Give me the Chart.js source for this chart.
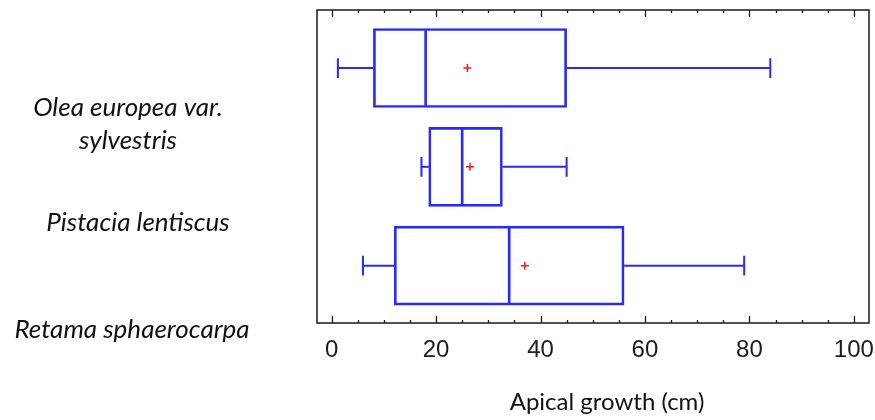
<!DOCTYPE html>
<html>
<head>
<meta charset="utf-8">
<script src="https://cdn.jsdelivr.net/npm/chart.js@4/dist/chart.umd.min.js"></script>
<style>
  html, body { margin: 0; padding: 0; background: #fff; }
  #wrap { width: 875px; height: 420px; }
</style>
</head>
<body>
<div id="wrap"><canvas id="chart" width="875" height="420"></canvas></div>
<script>
// species (one box each, top to bottom)
const species = ["Olea europea var. sylvestris", "Pistacia lentiscus", "Retama sphaerocarpa"];
const speciesLines = [["Olea europea var.", "sylvestris"], ["Pistacia lentiscus"], ["Retama sphaerocarpa"]];

// box plot statistics, apical growth in cm
const minVals    = [1.2, 17.2, 6];
const q1Vals     = [8, 18.6, 12];
const medianVals = [18, 25, 34];
const q3Vals     = [45, 32.7, 56];
const maxVals    = [84, 45, 79];
const meanVals   = [26, 26.5, 37];

const xTitle = "Apical growth (cm)";

const BLUE = "rgb(40,40,255)";
const RED = "rgb(255,20,20)";

// the labels sit lower than the boxes in the original figure
const labelOffsets = [0.57, 0.56, 0.65];
const labelX = [128, 138, 132];

const datasets = [];

// box: lower half (q1 -> median) and upper half (median -> q3)
datasets.push({
  type: "bar",
  indexAxis: "y",
  grouped: false,
  data: species.map((s, i) => ({ y: i + 1, x: [q1Vals[i], medianVals[i]] })),
  backgroundColor: "rgba(0,0,0,0)",
  borderColor: BLUE,
  borderWidth: { left: 2, top: 2, bottom: 2, right: 1 },
  borderSkipped: false,
  barThickness: 79
});
datasets.push({
  type: "bar",
  indexAxis: "y",
  grouped: false,
  data: species.map((s, i) => ({ y: i + 1, x: [medianVals[i], q3Vals[i]] })),
  backgroundColor: "rgba(0,0,0,0)",
  borderColor: BLUE,
  borderWidth: { left: 1, top: 2, bottom: 2, right: 2 },
  borderSkipped: false,
  barThickness: 79
});

// whiskers and caps
const capHalf = 0.1;
function seg(points) {
  return {
    type: "line",
    data: points,
    borderColor: BLUE,
    borderWidth: 2,
    pointRadius: 0,
    fill: false,
    tension: 0
  };
}
species.forEach((s, i) => {
  const y = i + 1;
  datasets.push(seg([{ x: minVals[i], y: y }, { x: q1Vals[i], y: y }]));
  datasets.push(seg([{ x: q3Vals[i], y: y }, { x: maxVals[i], y: y }]));
  datasets.push(seg([{ x: minVals[i], y: y - capHalf }, { x: minVals[i], y: y + capHalf }]));
  datasets.push(seg([{ x: maxVals[i], y: y - capHalf }, { x: maxVals[i], y: y + capHalf }]));
});

// means
datasets.push({
  type: "scatter",
  data: species.map((s, i) => ({ x: meanVals[i], y: i + 1 })),
  pointStyle: "cross",
  pointRadius: 4,
  borderColor: RED,
  borderWidth: 1.5,
  backgroundColor: RED
});

function isMult(v, n) {
  const r = Math.abs(v % n);
  return r < 1e-6 || Math.abs(r - n) < 1e-6;
}

// frame, inward ticks on top and bottom, species labels, axis title
const decorations = {
  id: "decorations",
  afterDraw(chart) {
    const ctx = chart.ctx;
    const a = chart.chartArea;
    const xs = chart.scales.x;
    const ys = chart.scales.y;
    ctx.save();
    ctx.strokeStyle = "#1a1a1a";
    ctx.lineWidth = 1.5;
    ctx.strokeRect(a.left, a.top, a.right - a.left, a.bottom - a.top);

    ctx.lineWidth = 1.3;
    xs.ticks.forEach(t => {
      const px = Math.round(xs.getPixelForValue(t.value)) + 0.5;
      const len = isMult(t.value, 20) ? 7 : 3;
      ctx.beginPath();
      ctx.moveTo(px, a.bottom);
      ctx.lineTo(px, a.bottom - len);
      ctx.moveTo(px, a.top);
      ctx.lineTo(px, a.top + len);
      ctx.stroke();
    });

    ctx.fillStyle = "#111";
    ctx.textAlign = "center";
    ctx.textBaseline = "middle";
    ctx.font = "italic 26px Lato, 'Open Sans', sans-serif";
    speciesLines.forEach((lines, i) => {
      const yc = ys.getPixelForValue(i + 1 + labelOffsets[i]);
      const lh = 33;
      lines.forEach((ln, k) => {
        ctx.fillText(ln, labelX[i], yc + (k - (lines.length - 1) / 2) * lh);
      });
    });

    ctx.font = "24px Lato, 'Open Sans', sans-serif";
    ctx.fillText(xTitle, 607, 402);
    ctx.restore();
  }
};

new Chart(document.getElementById("chart"), {
  type: "bar",
  data: { datasets: datasets },
  options: {
    responsive: false,
    animation: false,
    layout: { padding: { left: 317, right: 6, top: 10, bottom: 0 } },
    plugins: { legend: { display: false }, tooltip: { enabled: false } },
    scales: {
      x: {
        type: "linear",
        position: "bottom",
        offset: false,
        min: -2.8,
        max: 102.9,
        grid: { display: false, drawTicks: false, offset: false },
        border: { display: false },
        afterBuildTicks: s => {
          s.ticks = s.ticks.filter(t => isMult(t.value, 5));
        },
        afterFit: s => {
          s.height = 97;
          s.paddingLeft = 0;
          s.paddingRight = 0;
        },
        ticks: {
          stepSize: 5,
          includeBounds: false,
          autoSkip: false,
          maxRotation: 0,
          padding: 13,
          color: "#1c1c1c",
          font: { family: "'Liberation Sans', Arial, sans-serif", size: 24 },
          callback: v => (isMult(v, 20) ? String(Math.round(v)) : "")
        }
      },
      y: {
        type: "linear",
        display: false,
        offset: false,
        grid: { offset: false },
        reverse: true,
        min: 0.413,
        max: 3.58
      }
    }
  },
  plugins: [decorations]
});
</script>
</body>
</html>
